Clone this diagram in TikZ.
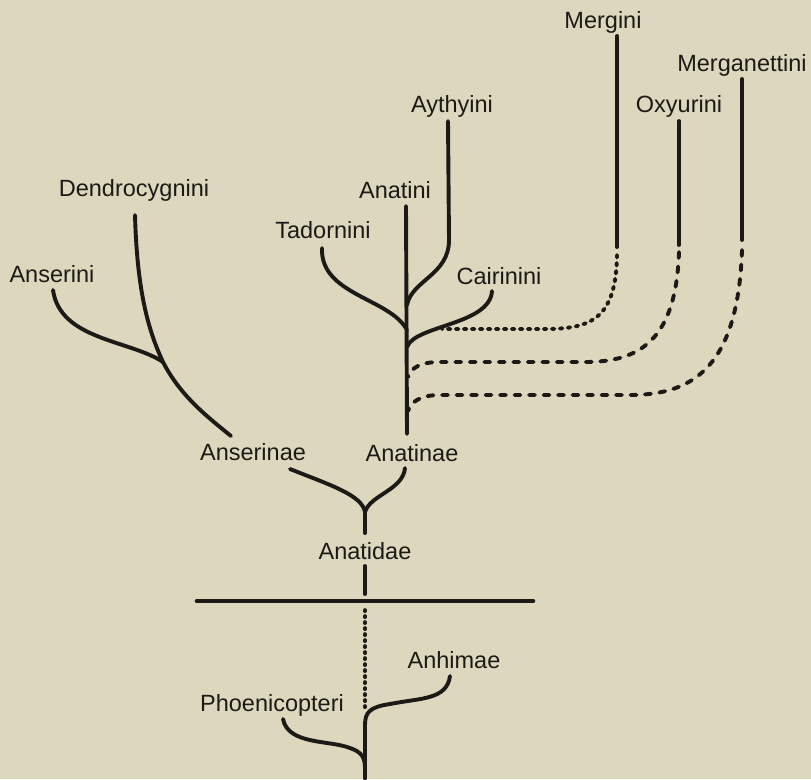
\documentclass[tikz,border=0pt]{standalone}
\usepackage{fontspec}
\setmainfont{Liberation Sans}
\definecolor{paper}{RGB}{220,215,189}
\definecolor{ink}{RGB}{28,26,22}
\begin{document}
\begin{tikzpicture}[x=1pt,y=-1pt,
  lbl/.style={anchor=base,inner sep=0pt,font=\fontsize{23.5}{26}\selectfont,text=ink},
  branch/.style={draw=ink,line width=3.9pt,line cap=round},
  dotbranch/.style={branch,dash pattern=on 2.5pt off 5.5pt},
  dashbranch/.style={branch,dash pattern=on 6pt off 8.5pt},
  fine/.style={draw=ink,line width=3.6pt,line cap=round,dash pattern=on 1.2pt off 4.8pt}]
\fill[paper] (0,0) rectangle (811,779);
\useasboundingbox (0,0) rectangle (811,779);
% labels
\node[lbl] (mergini) at (603,28) {Mergini};
\node[lbl] (merganettini) at (742,71) {Merganettini};
\node[lbl] (oxyurini) at (679,112) {Oxyurini};
\node[lbl] (aythyini) at (452,112) {Aythyini};
\node[lbl] (anatini) at (395,198) {Anatini};
\node[lbl] (dendro) at (134,196) {Dendrocygnini};
\node[lbl] (tadornini) at (323,238) {Tadornini};
\node[lbl] (anserini) at (52,282) {Anserini};
\node[lbl] (cairinini) at (499,284) {Cairinini};
\node[lbl] (anserinae) at (253,460) {Anserinae};
\node[lbl] (anatinae) at (412,461) {Anatinae};
\node[lbl] (anatidae) at (365,559) {Anatidae};
\node[lbl] (anhimae) at (454,668) {Anhimae};
\node[lbl] (phoeni) at (272,711) {Phoenicopteri};
% coordinates
\coordinate (tAnatini) at (406,206);
\coordinate (tAythyini) at (448,121);
\coordinate (tTadornini) at (322,248);
\coordinate (tCairinini) at (492,291);
\coordinate (tMergini) at (617,36);
\coordinate (bMergini) at (617,247);
\coordinate (tOxy) at (679,121);
\coordinate (bOxy) at (679,245);
\coordinate (tMerg) at (742,79);
\coordinate (bMerg) at (742,240);
\coordinate (trunkB) at (407,434);
\coordinate (tDendro) at (135,215);
\coordinate (tAnserini) at (53,290);
\coordinate (jAnser) at (163,362);
\coordinate (bAnser) at (231,436);
\coordinate (sAnserinae) at (290,469);
\coordinate (sAnatinae) at (405,468);
\coordinate (jFam) at (365,512);
\coordinate (bFam) at (365,533);
\coordinate (sAnatidae) at (365,566);
\coordinate (eAnatidae) at (365,594);
\coordinate (barL) at (197,601);
\coordinate (barR) at (533,601);
\coordinate (dotT) at (365,610);
\coordinate (dotB) at (365,709);
\coordinate (tAnhimae) at (450,676);
\coordinate (tPhoeni) at (283,719);
\coordinate (bottom) at (365,779);
% Anatinae tree
\draw[branch] (tAnatini) -- (trunkB);
\draw[branch] (tAythyini) -- (449,240) .. controls (449,275) and (412,280) .. (407,305);
\draw[branch] (tTadornini) .. controls (320,295) and (390,298) .. (407,330);
\draw[branch] (tCairinini) .. controls (490,325) and (415,325) .. (407,347);
\draw[branch] (tMergini) -- (bMergini);
\draw[branch] (tOxy) -- (bOxy);
\draw[branch] (tMerg) -- (bMerg);
\draw[dotbranch] (617,255) .. controls (616,318) and (592,329) .. (545,329) -- (442,329);
\draw[dashbranch] (679,252) .. controls (676,340) and (640,362) .. (585,362) -- (440,362) .. controls (420,362) and (411,368) .. (408,377);
\draw[dashbranch] (742,250) .. controls (738,365) and (695,395) .. (630,395) -- (440,395) .. controls (420,395) and (411,402) .. (408,411);
% Anserinae tree
\draw[branch] (tDendro) .. controls (137,290) and (148,330) .. (jAnser) .. controls (180,395) and (205,415) .. (bAnser);
\draw[branch] (tAnserini) .. controls (60,340) and (130,340) .. (jAnser);
% family junction
\draw[branch] (sAnserinae) .. controls (330,485) and (362,495) .. (jFam);
\draw[branch] (sAnatinae) .. controls (403,490) and (370,495) .. (jFam);
\draw[branch] (jFam) -- (bFam);
\draw[branch] (sAnatidae) -- (eAnatidae);
\draw[branch,line width=4.6pt] (barL) -- (barR);
\draw[fine] (dotT) -- (dotB);
% lower part
\draw[branch] (tAnhimae) .. controls (447,700) and (420,698) .. (390,704) .. controls (370,707) and (365,712) .. (365,725) -- (bottom);
\draw[branch] (tPhoeni) .. controls (288,745) and (330,740) .. (350,748) .. controls (362,752) and (365,758) .. (365,768);
\end{tikzpicture}
\end{document}
